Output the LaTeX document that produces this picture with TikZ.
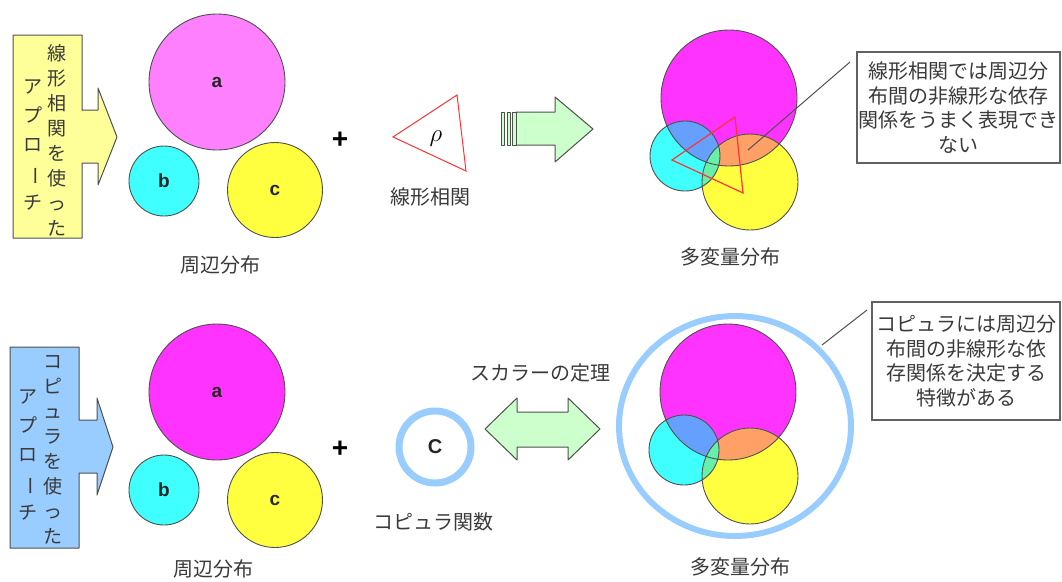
\documentclass[tikz,border=0pt]{standalone}
\usepackage{fontspec}
\usepackage{graphicx}
\setmainfont{Noto Sans CJK JP}
\newfontfamily\latfont{Liberation Sans}
\definecolor{txtgray}{HTML}{3A3A3A}
\definecolor{outl}{HTML}{505050}
\definecolor{ylwbox}{HTML}{FFFF99}
\definecolor{bluebox}{HTML}{99CCFF}
\definecolor{lmag}{HTML}{FF80FF}
\definecolor{mag}{HTML}{FF33FF}
\definecolor{cyn}{HTML}{40FFFF}
\definecolor{ylw}{HTML}{FFFF40}
\definecolor{mc}{HTML}{66A0FF}
\definecolor{my}{HTML}{FFA066}
\definecolor{cy}{HTML}{66F0AA}
\definecolor{grn}{HTML}{CCFFCC}
\definecolor{ring}{HTML}{99CCFF}
\definecolor{redline}{HTML}{FF3333}
\newcommand{\vbar}{\rotatebox[origin=c]{-90}{ー}}
\begin{document}
\begin{tikzpicture}[x=1pt,y=-1pt,
  jp/.style={font=\fontsize{20}{24}\selectfont, text=txtgray, inner sep=0pt},
  vcol/.style={font=\fontsize{19}{25}\selectfont, text=txtgray, align=center, inner sep=0pt},
  circ/.style={circle, draw=outl, line width=0.9pt, inner sep=0pt, font=\latfont\bfseries\fontsize{19}{19}\selectfont, text=black!85},
  blockarrow/.style={draw=outl, line width=1pt, line join=round},
  callout/.style={draw=outl!90, line width=1.2pt, inner sep=0pt, align=center, font=\fontsize{20}{24.5}\selectfont, text=txtgray},
  leader/.style={draw=outl, line width=1pt},
  plus/.style={font=\latfont\bfseries\fontsize{28}{28}\selectfont, inner sep=0pt}
]
\useasboundingbox (0,0) rectangle (1062,581);

% ---------- top row ----------
\path[blockarrow, fill=ylwbox] (13,35) -- (82,35) -- (82,110) -- (98,110) -- (98,88) -- (117,137)
  -- (98,185) -- (98,163) -- (82,163) -- (82,238) -- (13,238) -- cycle;
\node[vcol] (t1r) at (57,140) {線\\形\\相\\関\\を\\使\\っ\\た};
\node[vcol, font=\fontsize{19}{29}\selectfont] (t1l) at (33,145) {ア\\プ\\ロ\\\vbar\\チ};

\node[circ, fill=lmag, minimum size=136pt] (ta) at (217,82) {a};
\node[circ, fill=cyn, minimum size=70pt] (tb) at (164,181) {b};
\node[circ, fill=ylw, minimum size=95pt] (tc) at (275,190) {c};
\node[jp] (tlab) at (220,265) {周辺分布};
\node[plus] (tplus) at (340,140) {+};

\coordinate (r1) at (393,137);
\coordinate (r2) at (457,95);
\coordinate (r3) at (466,171);
\draw[redline, line width=1pt] (r1) -- (r2) -- (r3) -- cycle;
\node[inner sep=0pt, font=\fontsize{26}{26}\selectfont] (rho) at (436,139) {$\rho$};
\node[jp] (rholab) at (430,197) {線形相関};

\path[blockarrow, fill=grn] (516,112) -- (555,112) -- (555,97) -- (593,129) -- (555,162) -- (555,145) -- (516,145) -- cycle;
\path[blockarrow, fill=grn, line width=0.8pt] (501,112) rectangle (504,145);
\path[blockarrow, fill=grn, line width=0.8pt] (507,112) rectangle (510,145);
\path[blockarrow, fill=grn, line width=0.8pt] (512,112) rectangle (516,145);

\node[circle, fill=mag, minimum size=136pt, inner sep=0pt] (TM) at (729,98) {};
\node[circle, fill=cyn, minimum size=70pt, inner sep=0pt] (TC) at (685,156) {};
\node[circle, fill=ylw, minimum size=96pt, inner sep=0pt] (TY) at (750,182) {};
\begin{scope}\clip (TM.center) circle (68); \fill[mc] (TC.center) circle (35); \end{scope}
\begin{scope}\clip (TM.center) circle (68); \fill[my] (TY.center) circle (48); \end{scope}
\begin{scope}\clip (TC.center) circle (35); \fill[cy] (TY.center) circle (48); \end{scope}
\draw[outl, line width=0.9pt] (TM.center) circle (68) (TC.center) circle (35) (TY.center) circle (48);
\coordinate (s1) at (672,160);
\coordinate (s2) at (735,117);
\coordinate (s3) at (743,193);
\draw[redline, line width=1.2pt] (s1) -- (s2) -- (s3) -- cycle;
\node[jp] (tmlab) at (730,257) {多変量分布};

\node[callout, minimum width=203pt, minimum height=111pt] (tbox) at (958.5,107.5)
  {線形相関では周辺分\\布間の非線形な依存\\関係をうまく表現でき\\ない};
\coordinate (tl1) at (748,150);
\coordinate (tl2) at (850,62);
\draw[leader] (tl1) -- (tl2);

% ---------- bottom row ----------
\path[blockarrow, fill=bluebox] (10,347) -- (79,347) -- (79,420) -- (97,420) -- (97,398) -- (113,447)
  -- (97,495) -- (97,473) -- (79,473) -- (79,548) -- (10,548) -- cycle;
\node[vcol] (b1r) at (53,450) {コ\\ピ\\ュ\\ラ\\を\\使\\っ\\た};
\node[vcol, font=\fontsize{19}{29}\selectfont] (b1l) at (28,455) {ア\\プ\\ロ\\\vbar\\チ};

\node[circ, fill=mag, minimum size=136pt] (ba) at (217,392) {a};
\node[circ, fill=cyn, minimum size=70pt] (bb) at (164,490) {b};
\node[circ, fill=ylw, minimum size=95pt] (bc) at (275,500) {c};
\node[jp] (blab) at (213,569) {周辺分布};
\node[plus] (bplus) at (340,449) {+};

\node[circle, draw=ring, line width=7pt, minimum size=72pt, inner sep=0pt,
  font=\latfont\bfseries\fontsize{20}{20}\selectfont, text=black!85] (cop) at (435,447) {C};
\node[jp] (coplab) at (433,522) {コピュラ関数};

\path[blockarrow, fill=grn] (485,429) -- (517,398) -- (517,412) -- (568,412) -- (568,398) -- (600,429)
  -- (568,460) -- (568,447) -- (517,447) -- (517,460) -- cycle;
\node[jp] (sklar) at (540,373) {スカラーの定理};

\draw[ring, line width=6pt] (735,426) ellipse [x radius=116, y radius=110];
\node[circle, fill=mag, minimum size=136pt, inner sep=0pt] (BM) at (728,392) {};
\node[circle, fill=cyn, minimum size=70pt, inner sep=0pt] (BC) at (684,450) {};
\node[circle, fill=ylw, minimum size=96pt, inner sep=0pt] (BY) at (750,476) {};
\begin{scope}\clip (BM.center) circle (68); \fill[mc] (BC.center) circle (35); \end{scope}
\begin{scope}\clip (BM.center) circle (68); \fill[my] (BY.center) circle (48); \end{scope}
\begin{scope}\clip (BC.center) circle (35); \fill[cy] (BY.center) circle (48); \end{scope}
\draw[outl, line width=0.9pt] (BM.center) circle (68) (BC.center) circle (35) (BY.center) circle (48);
\node[jp] (bmlab) at (740,567) {多変量分布};

\node[callout, minimum width=188pt, minimum height=118pt] (bbox) at (966,361)
  {コピュラには周辺分\\布間の非線形な依\\存関係を決定する\\特徴がある};
\coordinate (bl1) at (822,345);
\coordinate (bl2) at (867,310);
\draw[leader] (bl1) -- (bl2);
\end{tikzpicture}
\end{document}
